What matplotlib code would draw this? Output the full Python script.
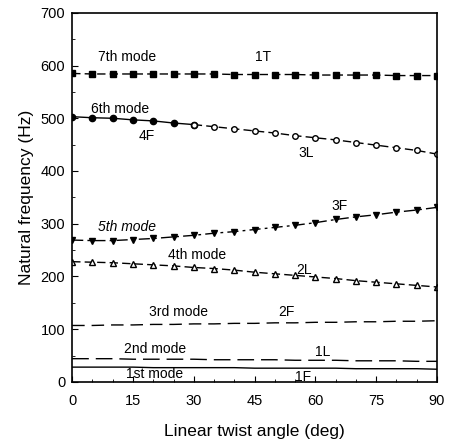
import numpy as np
import matplotlib
matplotlib.use("Agg")
import matplotlib.pyplot as plt
from matplotlib.ticker import MultipleLocator

plt.rcParams['font.family'] = ['Liberation Sans', 'DejaVu Sans']

# twist angle (deg)
angle = [0, 5, 10, 15, 20, 25, 30, 35, 40, 45, 50, 55, 60, 65, 70, 75, 80, 85, 90]

mode7 = [585, 584, 584, 584, 584, 584, 584, 584, 583, 583, 583, 583, 582, 582, 582, 582, 581, 581, 581]
mode6 = [503, 501, 500, 497, 495, 491, 488, 484, 480, 476, 472, 467, 463, 459, 454, 449, 444, 439, 432]
mode5 = [269, 268, 268, 270, 272, 275, 278, 282, 285, 289, 293, 297, 302, 308, 313, 317, 322, 326, 331]
mode4 = [228, 227, 226, 224, 222, 220, 217, 215, 212, 208, 205, 202, 199, 196, 192, 189, 186, 183, 180]
mode3 = [107, 107, 108, 108, 109, 109, 110, 110, 111, 111, 112, 112, 113, 113, 114, 114, 115, 115, 116]
mode2 = [44, 44, 44, 43, 43, 43, 43, 42, 42, 42, 42, 41, 41, 41, 40, 40, 40, 39, 39]
mode1 = [28, 28, 28, 28, 27, 27, 27, 27, 27, 26, 26, 26, 26, 26, 25, 25, 25, 25, 24]

split6 = 6  # index where 4F (filled) turns into 3L (open)

fig = plt.figure(figsize=(4.51, 4.42), dpi=100)
ax = fig.add_axes([0.16, 0.136, 0.809, 0.835])

ax.plot(angle, mode7, color='black', ls=(0, (6, 3)), lw=1.0, marker='s', ms=4.5)
ax.plot(angle[:split6 + 1], mode6[:split6 + 1], color='black', ls='-', lw=1.0, marker='o', ms=4.5)
ax.plot(angle[split6:], mode6[split6:], color='black', ls=(0, (6, 3)), lw=1.0,
        marker='o', ms=4, mfc='white')
ax.plot(angle, mode5, color='black', ls=(0, (8, 3, 2, 3)), lw=1.0, marker='v', ms=4.5)
ax.plot(angle, mode4, color='black', ls=(0, (6, 3)), lw=1.0, marker='^', ms=4, mfc='white')
ax.plot(angle, mode3, color='black', ls=(0, (9, 5)), lw=1.0)
ax.plot(angle, mode2, color='black', ls=(0, (12, 5)), lw=1.0)
ax.plot(angle, mode1, color='black', ls='-', lw=1.0)

# labels
fs = 10
ax.text(6.4, 608, '7th mode', fontsize=fs)
ax.text(45.1, 608, '1T', fontsize=fs)
ax.text(4.7, 510, '6th mode', fontsize=fs)
ax.text(16.3, 459, '4F', fontsize=fs)
ax.text(55.8, 427, '3L', fontsize=fs)
ax.text(64, 326, '3F', fontsize=fs)
ax.text(6.4, 287, '5th mode', fontsize=fs, style='italic')
ax.text(23.7, 233, '4th mode', fontsize=fs)
ax.text(55.2, 204, '2L', fontsize=fs)
ax.text(19, 125, '3rd mode', fontsize=fs)
ax.text(50.8, 125, '2F', fontsize=fs)
ax.text(12.8, 55, '2nd mode', fontsize=fs)
ax.text(60, 49, '1L', fontsize=fs)
ax.text(13.3, 7, '1st mode', fontsize=fs)
ax.text(55, 2, '1F', fontsize=fs)

ax.set_xlim(0, 90)
ax.set_ylim(0, 700)
ax.xaxis.set_major_locator(MultipleLocator(15))
ax.xaxis.set_minor_locator(MultipleLocator(5))
ax.yaxis.set_major_locator(MultipleLocator(100))
ax.yaxis.set_minor_locator(MultipleLocator(50))
ax.tick_params(which='both', direction='in', labelsize=10.5, top=False, right=False)
ax.tick_params(which='major', length=4)
ax.tick_params(which='minor', length=2)
ax.tick_params(axis='x', pad=9)
ax.tick_params(axis='y', pad=5)
for s in ax.spines.values():
    s.set_linewidth(1.2)

ax.set_xlabel('Linear twist angle (deg)', fontsize=12.5, labelpad=11)
ax.set_ylabel('Natural frequency (Hz)', fontsize=12.5, labelpad=5)

fig.savefig('out.png', dpi=100)
